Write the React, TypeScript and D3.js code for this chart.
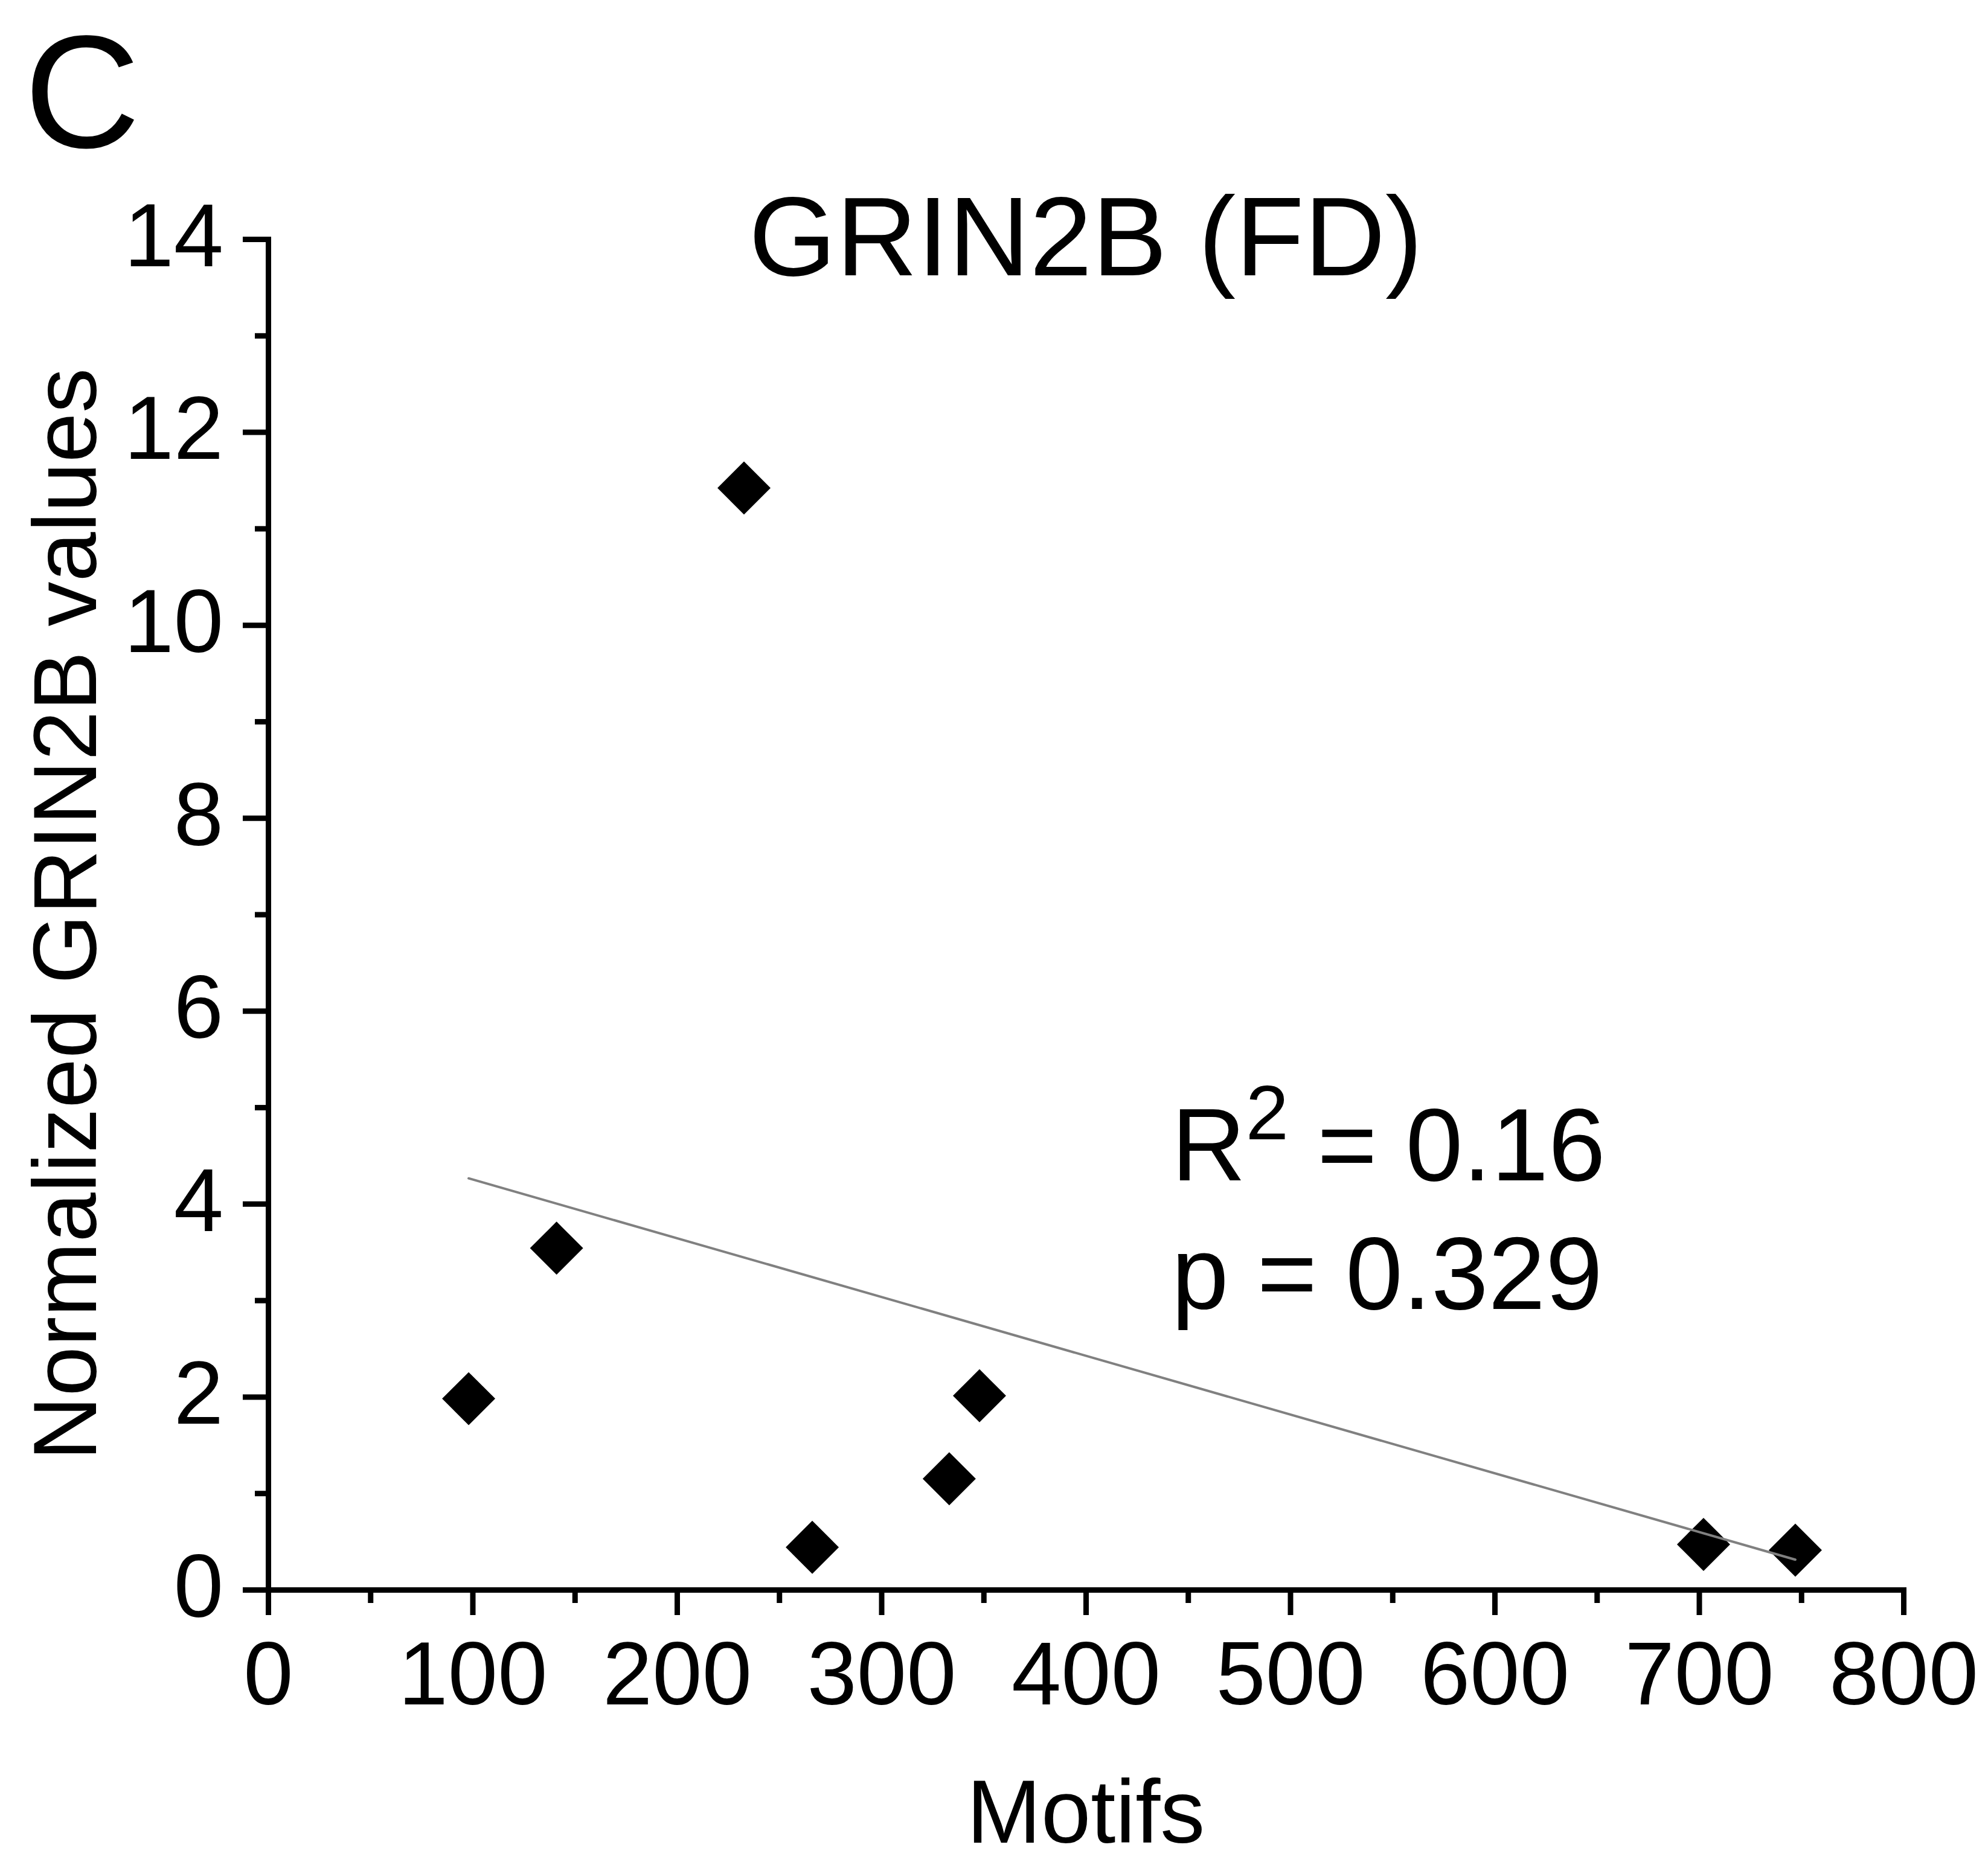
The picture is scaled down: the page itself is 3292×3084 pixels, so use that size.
import React, { useEffect, useRef } from "react";
import * as d3 from "d3";

// Data
const motifs: number[] = [98.1, 141.1, 232.8, 266.2, 333.2, 348.0, 702.2, 747.1];
const grin2bValues: number[] = [1.98, 3.54, 11.42, 0.44, 1.15, 2.01, 0.47, 0.41];
const xMajorTicks: number[] = [0, 100, 200, 300, 400, 500, 600, 700, 800];
const xMinorTicks: number[] = [50, 150, 250, 350, 450, 550, 650, 750];
const yMajorTicks: number[] = [0, 2, 4, 6, 8, 10, 12, 14];
const yMinorTicks: number[] = [1, 3, 5, 7, 9, 11, 13];
const panelLabel = "C";
const chartTitle = "GRIN2B (FD)";
const xLabel = "Motifs";
const yLabel = "Normalized GRIN2B values";
const r2Text = "0.16";
const pText = "0.329";

const W = 3292;
const H = 3084;
const FONT = "'Liberation Sans', Arial, Helvetica, sans-serif";

export default function App() {
  const ref = useRef<SVGSVGElement | null>(null);

  useEffect(() => {
    const svg = d3.select(ref.current);
    svg.selectAll("*").remove();

    const left = 444, right = 3152, top = 396, bottom = 2633;
    const x = d3.scaleLinear().domain([0, 800]).range([left, right]);
    const y = d3.scaleLinear().domain([0, 14]).range([bottom, top]);

    svg.append("rect").attr("width", W).attr("height", H).attr("fill", "#fff");

    const styleAxis = (g: any) => {
      g.selectAll("line").attr("stroke", "#000").attr("stroke-width", 9);
      g.selectAll("path.domain").attr("stroke", "#000").attr("stroke-width", 9).attr("stroke-linecap", "square");
      g.selectAll("text").attr("font-family", FONT).attr("font-size", 148).attr("fill", "#000");
    };

    // X axis
    const gx = svg.append("g").attr("transform", `translate(0,${bottom})`);
    gx.call(
      d3.axisBottom(x).tickValues(xMajorTicks).tickSize(42).tickSizeOuter(0).tickPadding(43).tickFormat(d3.format("d"))
    );
    styleAxis(gx);
    const gxm = svg.append("g").attr("transform", `translate(0,${bottom})`);
    gxm.call(d3.axisBottom(x).tickValues(xMinorTicks).tickSize(22).tickFormat(() => ""));
    gxm.select("path.domain").remove();
    styleAxis(gxm);

    // Y axis
    const gy = svg.append("g").attr("transform", `translate(${left},0)`);
    gy.call(
      d3.axisLeft(y).tickValues(yMajorTicks).tickSize(42).tickSizeOuter(0).tickPadding(32).tickFormat(d3.format("d"))
    );
    styleAxis(gy);
    gy.selectAll("text").attr("dy", "0.3em");
    const gym = svg.append("g").attr("transform", `translate(${left},0)`);
    gym.call(d3.axisLeft(y).tickValues(yMinorTicks).tickSize(22).tickFormat(() => ""));
    gym.select("path.domain").remove();
    styleAxis(gym);

    // Regression line (least squares)
    const n = motifs.length;
    const mx = d3.mean(motifs) as number;
    const my = d3.mean(grin2bValues) as number;
    let sxy = 0, sxx = 0;
    for (let i = 0; i < n; i++) {
      sxy += (motifs[i] - mx) * (grin2bValues[i] - my);
      sxx += (motifs[i] - mx) ** 2;
    }
    const slope = sxy / sxx;
    const intercept = my - slope * mx;
    const [xmin, xmax] = d3.extent(motifs) as [number, number];
    const fitPts: [number, number][] = [xmin, xmax].map((v) => [v, intercept + slope * v]);

    // Points
    const sym = d3.symbol().type(d3.symbolSquare).size(3870);
    svg
      .append("g")
      .selectAll("path")
      .data(motifs.map((m, i) => [m, grin2bValues[i]]))
      .join("path")
      .attr("d", sym as any)
      .attr("transform", (d: any) => `translate(${x(d[0])},${y(d[1])}) rotate(45)`)
      .attr("fill", "#000");

    svg
      .append("path")
      .datum(fitPts)
      .attr(
        "d",
        d3
          .line<[number, number]>()
          .x((d) => x(d[0]))
          .y((d) => y(d[1])) as any
      )
      .attr("fill", "none")
      .attr("stroke", "#808080")
      .attr("stroke-width", 4)
      .attr("stroke-linecap", "round");

    // Texts
    svg
      .append("text")
      .attr("x", 40)
      .attr("y", 244)
      .attr("font-family", FONT)
      .attr("font-size", 266)
      .text(panelLabel);

    svg
      .append("text")
      .attr("x", (left + right) / 2)
      .attr("y", 456)
      .attr("text-anchor", "middle")
      .attr("font-family", FONT)
      .attr("font-size", 186)
      .text(chartTitle);

    svg
      .append("text")
      .attr("x", (left + right) / 2)
      .attr("y", 3052)
      .attr("text-anchor", "middle")
      .attr("font-family", FONT)
      .attr("font-size", 148)
      .text(xLabel);

    svg
      .append("text")
      .attr("transform", `translate(159,${(top + bottom) / 2}) rotate(-90)`)
      .attr("text-anchor", "middle")
      .attr("font-family", FONT)
      .attr("font-size", 148)
      .text(yLabel);

    const r2 = svg
      .append("text")
      .attr("x", 1940)
      .attr("y", 1955)
      .attr("font-family", FONT)
      .attr("font-size", 170);
    r2.append("tspan").text("R");
    r2.append("tspan").attr("dy", -68).attr("font-size", 128).text("2");
    r2.append("tspan").attr("dy", 68).text(" = " + r2Text);

    svg
      .append("text")
      .attr("x", 1940)
      .attr("y", 2168)
      .attr("font-family", FONT)
      .attr("font-size", 170)
      .text("p = " + pText);
  }, []);

  return (
    <svg
      ref={ref}
      width={W}
      height={H}
      viewBox={`0 0 ${W} ${H}`}
      style={{ position: "absolute", left: 0, top: 0, display: "block" }}
    />
  );
}
